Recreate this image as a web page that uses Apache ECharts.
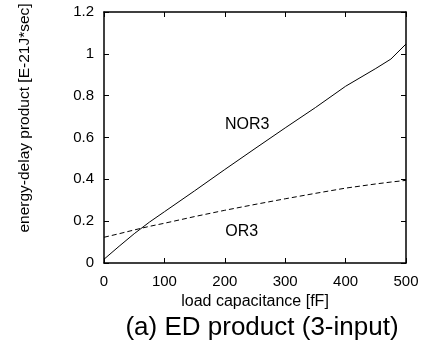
<!DOCTYPE html>
<html>
<head>
<meta charset="utf-8">
<script src="https://cdn.jsdelivr.net/npm/echarts@6/dist/echarts.min.js"></script>
<style>
    html, body { margin: 0; padding: 0; background: #fff; }
    #chart { width: 428px; height: 341px; }
</style>
</head>
<body>
<div id="chart"></div>
<script>
// load capacitance [fF]
const capacitance = [0, 25, 50, 75, 100, 150, 200, 250, 300, 350, 400, 450, 475, 500];
// energy-delay product [E-21J*sec]
const nor3 = [0.018, 0.08, 0.14, 0.195, 0.245, 0.345, 0.447, 0.547, 0.646, 0.743, 0.845, 0.93, 0.975, 1.047];
const or3 = [0.123, 0.14, 0.158, 0.175, 0.19, 0.222, 0.252, 0.28, 0.307, 0.333, 0.358, 0.378, 0.387, 0.395];
const xTicks = [0, 100, 200, 300, 400, 500];
const yTicks = [0, 0.2, 0.4, 0.6, 0.8, 1, 1.2];

const font = "'Liberation Sans', Arial, Helvetica, sans-serif";

const myChart = echarts.init(document.getElementById('chart'), null, { renderer: 'canvas' });

// frame + inward ticks, shared by all four sides
const boxAxis = (show) => ({
    axisLine: { show: true, onZero: false, lineStyle: { color: '#000', width: 1.5 } },
    axisTick: { show: true, inside: true, length: 5, lineStyle: { color: '#000', width: 1 } },
    splitLine: { show: false },
    axisLabel: { show: show },
});

const option = {
    animation: false,
    title: {
        text: '(a) ED product (3-input)',
        left: 257,
        top: 310,
        textAlign: 'center',
        textStyle: { fontFamily: font, fontSize: 26, fontWeight: 'normal', color: '#000' },
    },
    grid: { left: 104, right: 22, top: 12, bottom: 78 },
    xAxis: [
        {
            type: 'value',
            position: 'bottom',
            min: xTicks[0],
            max: xTicks[xTicks.length - 1],
            interval: 100,
            name: 'load capacitance [fF]',
            nameLocation: 'middle',
            nameGap: 24,
            nameTextStyle: { fontFamily: font, fontSize: 16, color: '#000' },
            ...boxAxis(true),
            axisLabel: { show: true, margin: 11, fontFamily: font, fontSize: 15, color: '#000' },
        },
        {
            type: 'value',
            position: 'top',
            min: xTicks[0],
            max: xTicks[xTicks.length - 1],
            interval: 100,
            ...boxAxis(false),
        },
    ],
    yAxis: [
        {
            type: 'value',
            position: 'left',
            min: yTicks[0],
            max: yTicks[yTicks.length - 1],
            interval: 0.2,
            ...boxAxis(true),
            axisLabel: { show: true, margin: 10, fontFamily: font, fontSize: 15, color: '#000' },
        },
        {
            type: 'value',
            position: 'right',
            min: yTicks[0],
            max: yTicks[yTicks.length - 1],
            interval: 0.2,
            ...boxAxis(false),
        },
    ],
    graphic: [
        {
            type: 'text',
            x: 25,
            y: 118,
            rotation: Math.PI / 2,
            style: {
                text: 'energy-delay product [E-21J*sec]',
                font: '15.5px ' + font,
                fill: '#000',
                align: 'center',
                verticalAlign: 'middle',
            },
        },
    ],
    series: [
        {
            name: 'NOR3',
            type: 'line',
            data: capacitance.map((c, i) => [c, nor3[i]]),
            showSymbol: false,
            symbol: 'none',
            lineStyle: { color: '#000', width: 1 },
            markPoint: {
                symbol: 'circle',
                symbolSize: 1,
                itemStyle: { color: 'rgba(0,0,0,0)' },
                label: { show: true, position: 'inside', formatter: 'NOR3', fontFamily: font, fontSize: 16, color: '#000' },
                data: [{ coord: [237, 0.66] }],
            },
        },
        {
            name: 'OR3',
            type: 'line',
            data: capacitance.map((c, i) => [c, or3[i]]),
            showSymbol: false,
            symbol: 'none',
            lineStyle: { color: '#000', width: 1, type: [5, 3] },
            markPoint: {
                symbol: 'circle',
                symbolSize: 1,
                itemStyle: { color: 'rgba(0,0,0,0)' },
                label: { show: true, position: 'inside', formatter: 'OR3', fontFamily: font, fontSize: 16, color: '#000' },
                data: [{ coord: [228, 0.148] }],
            },
        },
    ],
};
myChart.setOption(option);
</script>
</body>
</html>
